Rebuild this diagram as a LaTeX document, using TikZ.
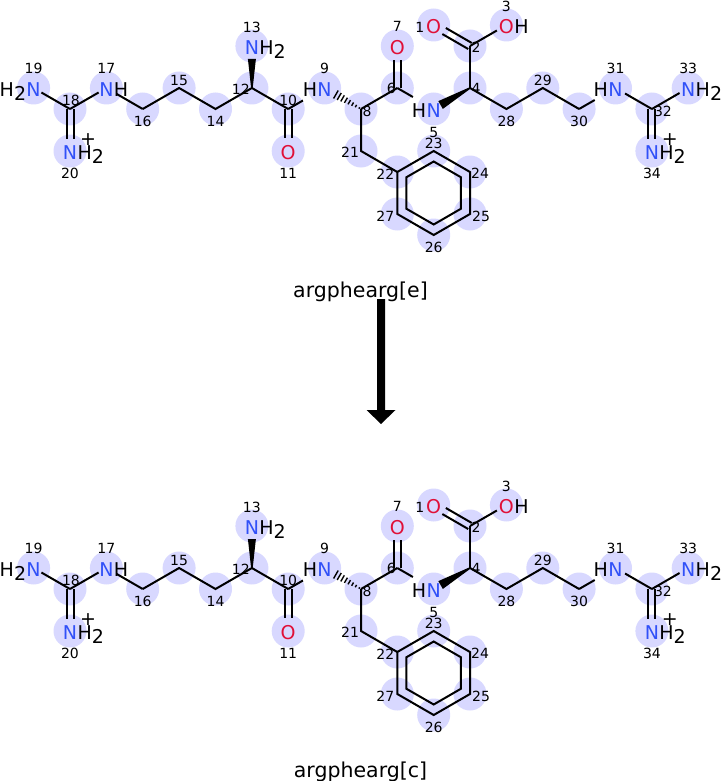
\documentclass[tikz,border=0pt]{standalone}
\usepackage{fontspec}
\setmainfont{DejaVu Sans}
\usetikzlibrary{calc}
\definecolor{nblue}{RGB}{48,80,248}
\definecolor{ored}{RGB}{224,16,56}
\definecolor{hl}{RGB}{216,216,255}
\tikzset{
  bond/.style={line width=2pt, draw=black},
  hashline/.style={line width=1.4pt, draw=black},
  atomfont/.style={font=\fontsize{19}{19}\selectfont, inner sep=0pt},
  nlab/.style={atomfont, text=nblue, yshift=-2pt},
  olab/.style={atomfont, text=ored, yshift=-2pt},
  hlab/.style={atomfont, text=black},
  numlab/.style={font=\fontsize{14}{14}\selectfont, inner sep=0pt, text=black},
  halo/.style={fill=hl},
  title/.style={font=\fontsize{20.5}{20.5}\selectfont, inner sep=0pt, anchor=base},
}
\newcommand\Hsub{H\raisebox{-4pt}{2}}
\newcommand\dbond[3]{%
  \draw[bond, shorten >=#3] ($(#1)!3.5pt!90:(#2)$) -- ($(#2)!3.5pt!-90:(#1)$);
  \draw[bond, shorten >=#3] ($(#1)!3.5pt!-90:(#2)$) -- ($(#2)!3.5pt!90:(#1)$);}
\newcommand\solidwedge[4]{%
  \coordinate (wend) at ($(#1)!#3!(#2)$);
  \fill[black] ($(#1)!0.8pt!90:(#2)$) -- ($(wend)!#4!-90:(#1)$) -- ($(wend)!#4!90:(#1)$) -- ($(#1)!0.8pt!-90:(#2)$) -- cycle;}
\newcommand\hashwedge[2]{%
  \foreach \i in {0,...,7}{
    \pgfmathsetlengthmacro\hpos{2+\i*27/7}
    \pgfmathsetlengthmacro\hwid{0.8+\i*3.8/7}
    \coordinate (hc) at ($(#1)!\hpos!(#2)$);
    \draw[hashline] ($(hc)!\hwid!90:(#2)$) -- ($(hc)!\hwid!-90:(#2)$);
  }}
\newcommand\drawmol[1]{%
  % atoms and highlight discs
  \foreach \n/\x/\y in {1/433.7/25, 2/470/46, 3/506.4/25, 4/470/88, 5/433.7/109,
      6/397.3/88, 7/397.3/46, 8/361/109, 9/324.6/88, 10/288.2/109, 11/288.2/151,
      12/251.9/88, 13/251.9/46, 14/215.5/109, 15/179.1/88, 16/142.7/109,
      17/106.4/88, 18/70/109, 19/33.6/88, 20/70/151, 21/361/151, 22/397.3/172,
      23/433.7/151, 24/470/172, 25/470/214, 26/433.7/235, 27/397.3/214,
      28/506.4/109, 29/542.8/88, 30/579.1/109, 31/615.5/88, 32/651.9/109,
      33/688.2/88, 34/651.9/151}{
    \coordinate (#1a\n) at (\x,\y);
    \fill[halo] (\x,\y) circle[radius=16.5];
  }
  \coordinate (#1rc) at (433.7,193);
  % single bonds
  \draw[bond, shorten >=9pt] (#1a18) -- (#1a19);
  \draw[bond, shorten >=9pt] (#1a18) -- (#1a17);
  \draw[bond, shorten <=12pt] (#1a17) -- (#1a16);
  \draw[bond] (#1a16) -- (#1a15) -- (#1a14) -- (#1a12) -- (#1a10);
  \draw[bond, shorten >=25pt] (#1a10) -- (#1a9);
  \draw[bond] (#1a8) -- (#1a6);
  \draw[bond, shorten >=24pt] (#1a6) -- (#1a5);
  \draw[bond] (#1a4) -- (#1a2);
  \draw[bond, shorten >=11pt] (#1a2) -- (#1a3);
  \draw[bond] (#1a4) -- (#1a28) -- (#1a29) -- (#1a30);
  \draw[bond, shorten >=24pt] (#1a30) -- (#1a31);
  \draw[bond, shorten <=11pt] (#1a31) -- (#1a32);
  \draw[bond, shorten >=10pt] (#1a32) -- (#1a33);
  \draw[bond] (#1a8) -- (#1a21) -- (#1a22);
  % ring
  \draw[bond] (#1a22) -- (#1a23) -- (#1a24) -- (#1a25) -- (#1a26) -- (#1a27) -- cycle;
  \draw[bond] ($(#1rc)!0.75!(#1a22)$) -- ($(#1rc)!0.75!(#1a23)$) -- ($(#1rc)!0.75!(#1a24)$)
     -- ($(#1rc)!0.75!(#1a25)$) -- ($(#1rc)!0.75!(#1a26)$) -- ($(#1rc)!0.75!(#1a27)$) -- cycle;
  % double bonds
  \dbond{#1a18}{#1a20}{12pt}
  \dbond{#1a10}{#1a11}{13pt}
  \dbond{#1a6}{#1a7}{14pt}
  \dbond{#1a2}{#1a1}{12pt}
  \dbond{#1a32}{#1a34}{12pt}
  % stereo bonds
  \solidwedge{#1a12}{#1a13}{29pt}{4pt}
  \solidwedge{#1a4}{#1a5}{34pt}{4.5pt}
  \hashwedge{#1a8}{#1a9}
  % atom labels
  \node[nlab] (#1N19) at (#1a19) {N};
  \node[hlab, anchor=base east] (#1H19) at (#1N19.base west) {\Hsub};
  \node[nlab] (#1N17) at (#1a17) {N};
  \node[hlab, anchor=base west] (#1H17) at (#1N17.base east) {H};
  \node[nlab] (#1N20) at (#1a20) {N};
  \node[hlab, anchor=base west] (#1H20) at (#1N20.base east) {\Hsub};
  \node[hlab] (#1P20) at ($(#1a20)+(18,-11)$) {+};
  \node[nlab] (#1N13) at (#1a13) {N};
  \node[hlab, anchor=base west] (#1H13) at (#1N13.base east) {\Hsub};
  \node[olab] (#1O11) at (#1a11) {O};
  \node[nlab] (#1N9) at (#1a9) {N};
  \node[hlab, anchor=base east] (#1H9) at (#1N9.base west) {H};
  \node[olab] (#1O7) at (#1a7) {O};
  \node[olab] (#1O1) at (#1a1) {O};
  \node[olab] (#1O3) at (#1a3) {O};
  \node[hlab, anchor=base west] (#1H3) at (#1O3.base east) {H};
  \node[nlab] (#1N5) at (#1a5) {N};
  \node[hlab, anchor=base east] (#1H5) at (#1N5.base west) {H};
  \node[nlab] (#1N31) at (#1a31) {N};
  \node[hlab, anchor=base east] (#1H31) at (#1N31.base west) {H};
  \node[nlab] (#1N33) at (#1a33) {N};
  \node[hlab, anchor=base west] (#1H33) at (#1N33.base east) {\Hsub};
  \node[nlab] (#1N34) at (#1a34) {N};
  \node[hlab, anchor=base west] (#1H34) at (#1N34.base east) {\Hsub};
  \node[hlab] (#1P34) at ($(#1a34)+(18,-11)$) {+};
  % atom numbers
  \foreach \n/\dx/\dy in {1/-14/2, 2/6/1, 3/0/-19, 4/6/0, 5/0/23, 6/-6/0, 7/0/-20,
      8/6/2, 9/0/-20, 10/0/-9, 11/0/22, 12/-11/1, 13/0/-19, 14/0/12, 15/0/-8,
      16/0/12, 17/0/-20, 18/1/-9, 19/0/-20, 20/0/22, 21/-11/1, 22/-12/2, 23/0/-8,
      24/10/1, 25/11/2, 26/0/12, 27/-12/2, 28/0/12, 29/0/-8, 30/0/12, 31/0/-20,
      32/11/2, 33/0/-20, 34/0/22}{
    \node[numlab] (#1num\n) at ($(#1a\n)+(\dx,\dy)$) {\n};
  }
}
\begin{document}
\begin{tikzpicture}[x=1pt, y=-1pt]
  \useasboundingbox (0,0) rectangle (723,781);
  \fill[white] (0,0) rectangle (723,781);
  \begin{scope}
    \drawmol{t}
  \end{scope}
  \begin{scope}[shift={(0,480)}]
    \drawmol{b}
  \end{scope}
  \node[title] (title1) at (360.5,297) {argphearg[e]};
  \node[title] (title2) at (360.5,777) {argphearg[c]};
  \coordinate (arrtop) at (381,299);
  \coordinate (arrtip) at (381,424);
  \fill[black] ($(arrtop)+(-4,0)$) -- ($(arrtop)+(4,0)$) -- ($(arrtip)+(4,-14)$)
     -- ($(arrtip)+(14.5,-14)$) -- (arrtip) -- ($(arrtip)+(-14.5,-14)$)
     -- ($(arrtip)+(-4,-14)$) -- cycle;
\end{tikzpicture}
\end{document}
